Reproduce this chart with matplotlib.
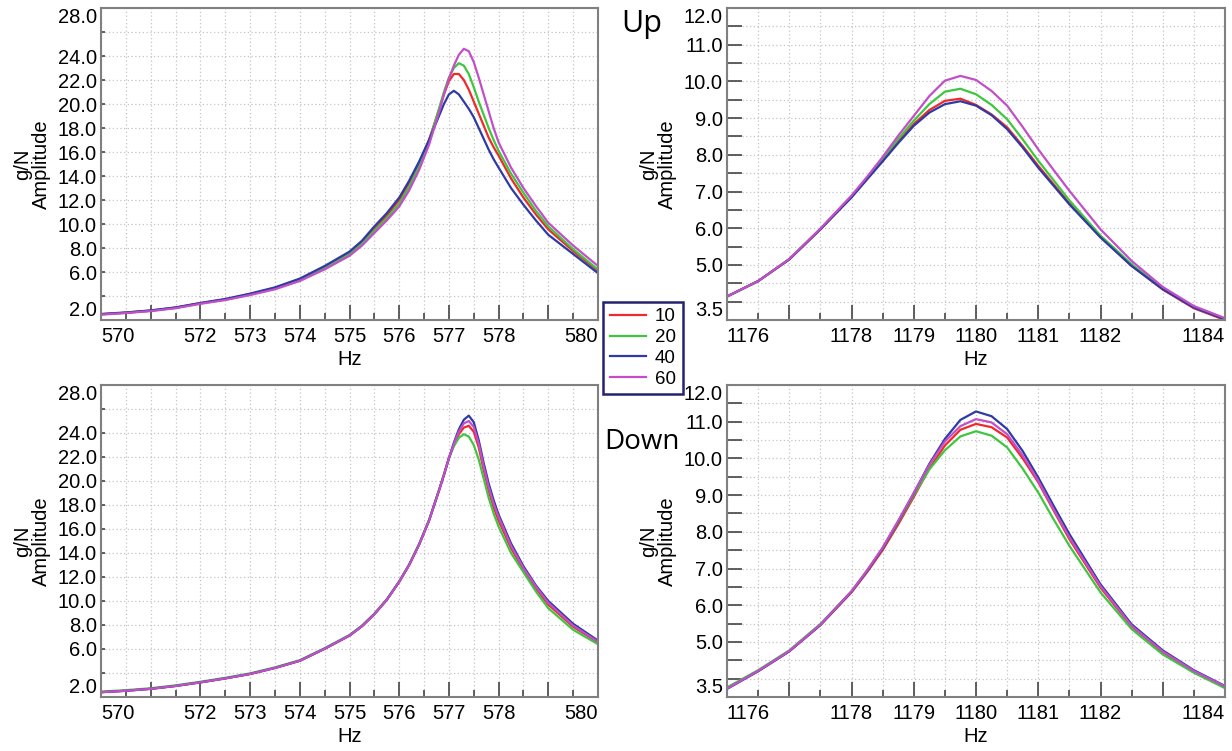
import numpy as np
import matplotlib
matplotlib.use('Agg')
import matplotlib.pyplot as plt
from matplotlib.lines import Line2D

plt.rcParams['font.family'] = ['Liberation Sans', 'DejaVu Sans']

# series names / colours
series = ['10', '20', '40', '60']
colors = {'10': '#ee2a2a', '20': '#3fc63f', '40': '#2e3aa6', '60': '#c24ec8'}

# ---- first mode (~577 Hz) ----
f_low = [570, 570.5, 571, 571.5, 572, 572.5, 573, 573.5, 574, 574.5, 575, 575.25, 575.5,
         575.75, 576, 576.2, 576.4, 576.6, 576.8, 576.9, 577.0, 577.1, 577.2, 577.3, 577.4,
         577.5, 577.6, 577.7, 577.8, 577.9, 578.0, 578.25, 578.5, 578.75, 579.0, 579.5, 580.0]

up_low = {
    '10': [2.48, 2.61, 2.78, 3.03, 3.40, 3.72, 4.16, 4.66, 5.38, 6.40, 7.58, 8.45, 9.60,
           10.7, 12.0, 13.4, 15.0, 17.0, 19.5, 20.8, 21.9, 22.5, 22.5, 22.0, 21.2,
           20.2, 19.2, 18.2, 17.2, 16.4, 15.7, 13.8, 12.2, 10.8, 9.55, 7.75, 6.1],
    '20': [2.47, 2.60, 2.77, 3.01, 3.38, 3.70, 4.13, 4.62, 5.32, 6.32, 7.48, 8.35, 9.45,
           10.5, 11.7, 13.1, 14.8, 16.9, 19.6, 21.0, 22.2, 23.0, 23.4, 23.2, 22.5,
           21.4, 20.2, 19.1, 18.0, 17.0, 16.1, 14.2, 12.6, 11.1, 9.8, 7.9, 6.2],
    '40': [2.50, 2.63, 2.80, 3.05, 3.42, 3.75, 4.20, 4.72, 5.45, 6.50, 7.70, 8.60, 9.80,
           10.9, 12.2, 13.6, 15.2, 17.0, 19.0, 20.0, 20.8, 21.1, 20.8, 20.2, 19.6,
           18.9, 18.0, 17.1, 16.2, 15.4, 14.7, 13.0, 11.6, 10.3, 9.1, 7.5, 5.9],
    '60': [2.45, 2.58, 2.74, 2.98, 3.35, 3.66, 4.08, 4.56, 5.25, 6.22, 7.35, 8.20, 9.25,
           10.3, 11.45, 12.8, 14.5, 16.6, 19.3, 20.8, 22.1, 23.2, 24.1, 24.6, 24.4,
           23.5, 22.2, 20.8, 19.4, 18.0, 16.8, 14.7, 13.0, 11.5, 10.1, 8.2, 6.5],
}

down_low = {
    '10': [2.40, 2.52, 2.68, 2.92, 3.22, 3.55, 3.92, 4.42, 5.02, 6.02, 7.12, 7.90, 8.90,
           10.1, 11.6, 13.0, 14.7, 16.7, 19.2, 20.5, 21.9, 23.0, 23.9, 24.45, 24.6,
           24.1, 22.8, 20.9, 19.2, 17.8, 16.7, 14.4, 12.6, 11.05, 9.7, 7.85, 6.55],
    '20': [2.45, 2.57, 2.73, 2.97, 3.27, 3.60, 3.97, 4.47, 5.07, 6.07, 7.17, 7.95, 8.95,
           10.15, 11.65, 13.05, 14.75, 16.75, 19.25, 20.55, 21.9, 22.9, 23.6, 23.9, 23.7,
           23.0, 21.8, 20.2, 18.6, 17.3, 16.2, 14.0, 12.4, 10.8, 9.4, 7.6, 6.4],
    '40': [2.40, 2.52, 2.68, 2.92, 3.22, 3.55, 3.92, 4.42, 5.02, 6.02, 7.12, 7.90, 8.90,
           10.1, 11.6, 13.0, 14.7, 16.7, 19.2, 20.5, 21.9, 23.2, 24.3, 25.1, 25.45,
           24.9, 23.4, 21.5, 19.8, 18.4, 17.2, 14.8, 12.9, 11.3, 10.0, 8.1, 6.7],
    '60': [2.40, 2.52, 2.68, 2.92, 3.22, 3.55, 3.92, 4.42, 5.02, 6.02, 7.12, 7.90, 8.90,
           10.1, 11.6, 13.0, 14.7, 16.7, 19.2, 20.5, 21.9, 23.1, 24.1, 24.8, 25.0,
           24.5, 23.1, 21.2, 19.5, 18.1, 17.0, 14.6, 12.75, 11.2, 9.85, 7.95, 6.6],
}

# ---- second mode (~1180 Hz) ----
f_high = [1176, 1176.5, 1177, 1177.5, 1178, 1178.25, 1178.5, 1178.75, 1179, 1179.25,
          1179.5, 1179.75, 1180, 1180.25, 1180.5, 1180.75, 1181, 1181.25, 1181.5, 1182,
          1182.5, 1183, 1183.5, 1184]

up_high = {
    '10': [4.14, 4.56, 5.15, 5.97, 6.85, 7.35, 7.86, 8.36, 8.84, 9.22, 9.47, 9.53,
           9.36, 9.10, 8.75, 8.24, 7.70, 7.19, 6.68, 5.76, 4.98, 4.33, 3.82, 3.50],
    '20': [4.14, 4.56, 5.16, 5.98, 6.87, 7.37, 7.90, 8.43, 8.93, 9.38, 9.72, 9.80,
           9.65, 9.36, 8.97, 8.42, 7.84, 7.30, 6.76, 5.80, 5.02, 4.36, 3.86, 3.53],
    '40': [4.14, 4.56, 5.15, 5.97, 6.84, 7.33, 7.82, 8.32, 8.79, 9.15, 9.38, 9.46,
           9.34, 9.08, 8.70, 8.20, 7.65, 7.15, 6.65, 5.75, 4.97, 4.34, 3.84, 3.52],
    '60': [4.14, 4.56, 5.16, 5.99, 6.89, 7.40, 7.94, 8.52, 9.06, 9.60, 10.02, 10.15,
           10.04, 9.74, 9.34, 8.76, 8.15, 7.58, 7.02, 5.97, 5.11, 4.40, 3.88, 3.55],
}

down_high = {
    '10': [3.74, 4.21, 4.75, 5.46, 6.35, 6.90, 7.50, 8.20, 8.95, 9.72, 10.35, 10.78,
           10.94, 10.85, 10.57, 10.00, 9.35, 8.57, 7.80, 6.48, 5.42, 4.72, 4.19, 3.78],
    '20': [3.76, 4.23, 4.77, 5.49, 6.38, 6.94, 7.55, 8.26, 9.00, 9.70, 10.22, 10.60,
           10.74, 10.62, 10.30, 9.72, 9.07, 8.33, 7.62, 6.35, 5.35, 4.66, 4.16, 3.74],
    '40': [3.72, 4.20, 4.74, 5.46, 6.37, 6.93, 7.55, 8.28, 9.05, 9.85, 10.53, 11.05,
           11.28, 11.15, 10.80, 10.20, 9.48, 8.70, 7.94, 6.57, 5.48, 4.77, 4.23, 3.80],
    '60': [3.73, 4.21, 4.75, 5.47, 6.38, 6.95, 7.57, 8.30, 9.06, 9.82, 10.46, 10.88,
           11.07, 10.98, 10.66, 10.08, 9.39, 8.60, 7.85, 6.52, 5.44, 4.74, 4.21, 3.79],
}

# tick labels
low_xticks = list(range(570, 581))
low_xlabels = ['570', '', '572', '573', '574', '575', '576', '577', '578', '', '580']
high_xticks = list(range(1176, 1185))
high_xlabels = ['1176', '', '1178', '1179', '1180', '1181', '1182', '', '1184']
low_yticks = list(range(2, 29, 2))
low_ylabels = ['2.0', '', '6.0', '8.0', '10.0', '12.0', '14.0', '16.0', '18.0', '20.0',
               '22.0', '24.0', '', '28.0']
high_yticks = list(np.arange(3.5, 12.01, 0.5))
high_ylabels = ['3.5', '', '', '5.0', '', '6.0', '', '7.0', '', '8.0', '', '9.0', '',
                '10.0', '', '11.0', '', '12.0']

FS = 14.5


def style_axis(ax, xticks, xlabels, yticks, ylabels, ylong=None, ytick_len=3):
    ax.set_xlim(xticks[0], xticks[-1])
    ax.set_ylim(yticks[0], yticks[-1])
    ax.set_xticks(xticks)
    ax.set_xticklabels(xlabels, fontsize=FS)
    ax.set_xticks(np.arange(xticks[0] + 0.5, xticks[-1], 1.0), minor=True)
    ax.set_yticks(yticks)
    ax.set_yticklabels(ylabels, fontsize=FS)
    if ylong:
        ax.set_yticks(ylong, minor=True)
        ax.tick_params(axis='y', which='minor', direction='in', length=11.5, width=1.3,
                       color='#444444')
    else:
        ax.yaxis.set_minor_locator(matplotlib.ticker.NullLocator())
    ax.tick_params(axis='x', which='major', direction='in', length=10.5, width=1.2,
                   color='#444444', pad=5)
    ax.tick_params(axis='x', which='minor', direction='in', length=5, width=1.2,
                   color='#444444')
    ax.tick_params(axis='y', which='major', direction='in', length=ytick_len, width=1.2,
                   color='#444444', pad=3)
    # edge labels are pushed inside the axis range
    xl = ax.get_xticklabels()
    xl[0].set_ha('left')
    xl[-1].set_ha('right')
    yl = ax.get_yticklabels()
    yl[0].set_va('bottom')
    yl[-1].set_va('top')
    ax.grid(True, which='both', axis='x', color='#c4c4c4', linestyle=(0, (1, 2)), linewidth=0.9)
    ax.grid(True, which='major', axis='y', color='#c4c4c4', linestyle=(0, (1, 2)), linewidth=0.9)
    for s in ax.spines.values():
        s.set_color('#808080')
        s.set_linewidth(1.5)
    ax.set_xlabel('Hz', fontsize=FS, labelpad=3)
    ax.set_ylabel('g/N\nAmplitude', fontsize=FS, linespacing=1.0, labelpad=5)


fig = plt.figure(figsize=(12.32, 7.51), dpi=100)
W, H = 1232.0, 751.0
ax_ul = fig.add_axes([101 / W, 1 - 320 / H, 497 / W, 312 / H])
ax_ur = fig.add_axes([727 / W, 1 - 320 / H, 498 / W, 312 / H])
ax_dl = fig.add_axes([101 / W, 1 - 697 / H, 497 / W, 312 / H])
ax_dr = fig.add_axes([727 / W, 1 - 697 / H, 498 / W, 312 / H])

for ax, f, data in [(ax_ul, f_low, up_low), (ax_dl, f_low, down_low),
                    (ax_ur, f_high, up_high), (ax_dr, f_high, down_high)]:
    for s in series:
        ax.plot(f, data[s], color=colors[s], linewidth=1.6, solid_joinstyle='round')

style_axis(ax_ul, low_xticks, low_xlabels, low_yticks, low_ylabels, ylong=[10, 20])
style_axis(ax_dl, low_xticks, low_xlabels, low_yticks, low_ylabels, ylong=[10, 20])
style_axis(ax_ur, high_xticks, high_xlabels, high_yticks, high_ylabels, ytick_len=10.5)
style_axis(ax_dr, high_xticks, high_xlabels, high_yticks, high_ylabels, ytick_len=10.5)

fig.text(642 / W, 1 - 24 / H, 'Up', fontsize=22, family='Open Sans', ha='center', va='center')
fig.text(642 / W, 1 - 442 / H, 'Down', fontsize=20, family='Open Sans', ha='center', va='center')

handles = [Line2D([], [], color=colors[s], linewidth=1.6) for s in series]
leg = fig.legend(handles, series, loc='center', bbox_to_anchor=(643 / W, 1 - 348 / H),
                 fontsize=13.5, handlelength=1.9, handletextpad=0.5, labelspacing=0.2,
                 borderpad=0.35, fancybox=False, framealpha=1)
leg.get_frame().set_edgecolor('#24236e')
leg.get_frame().set_linewidth(1.8)

fig.savefig('out.png', dpi=100)
